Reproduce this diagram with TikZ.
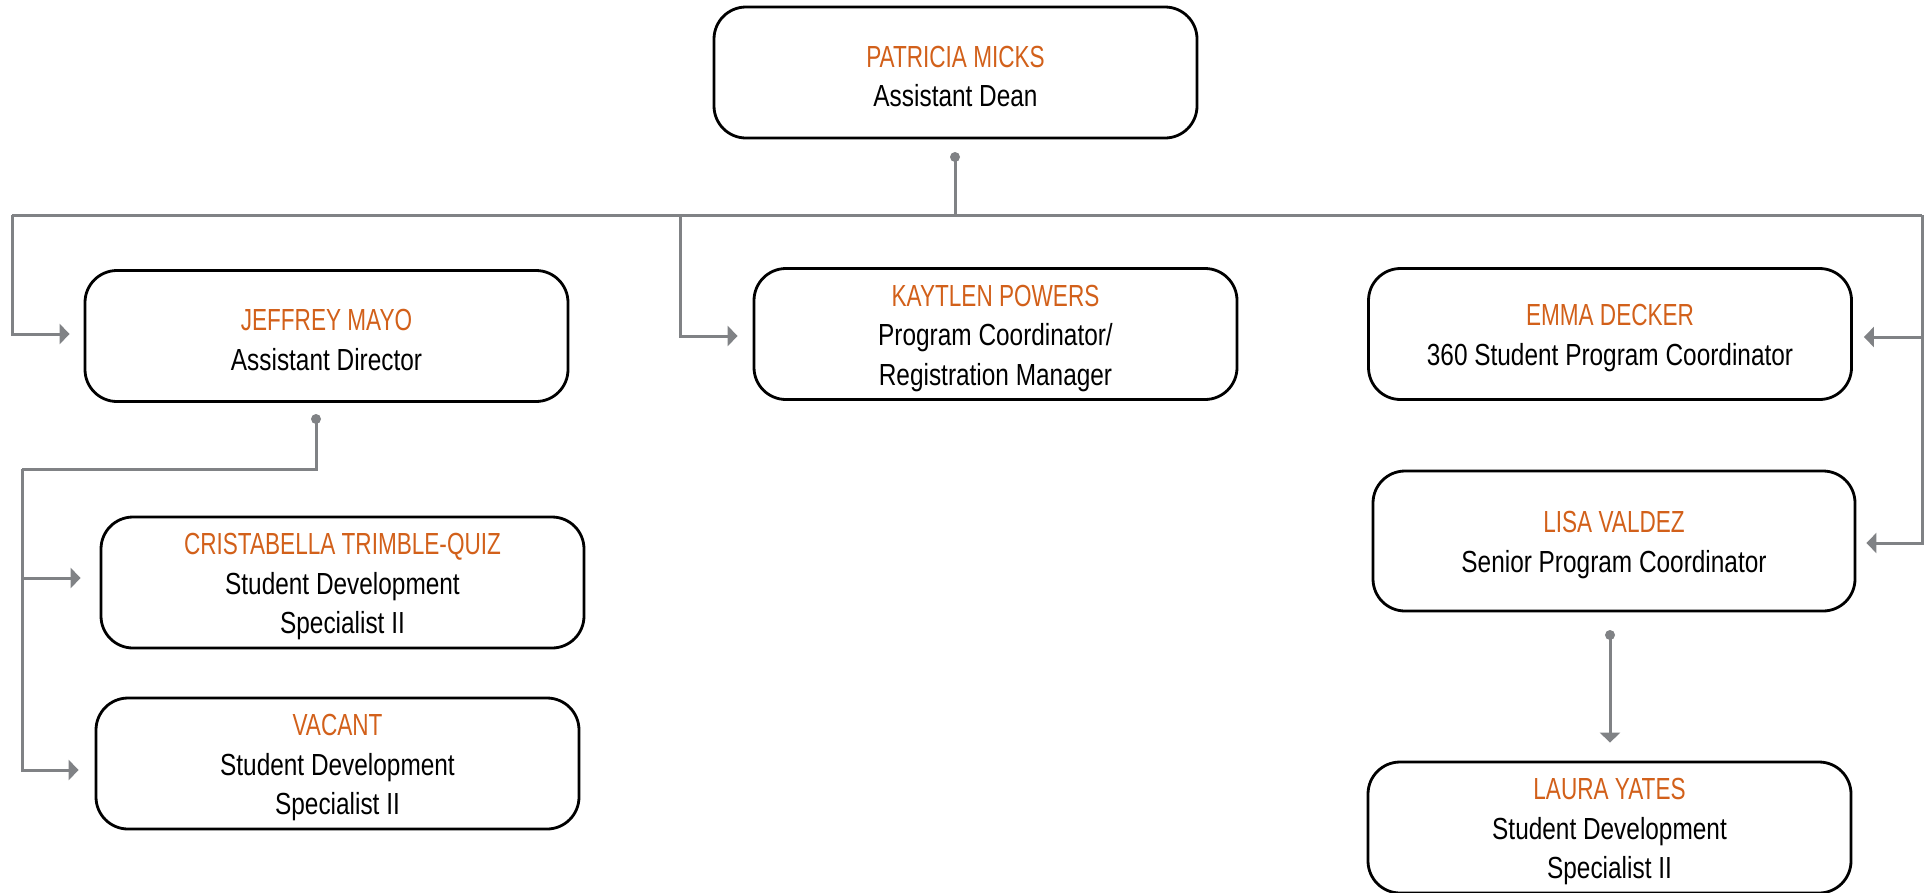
\documentclass[tikz,border=0pt]{standalone}
\usepackage{fontspec}
\usetikzlibrary{arrows.meta}
\setmainfont[FakeStretch=0.80]{Liberation Sans}
\newfontfamily\namefont[FakeStretch=0.74]{Liberation Sans}
\definecolor{nameorange}{RGB}{210,96,26}
\definecolor{conngray}{RGB}{128,130,133}
\newcommand{\person}[2]{\rule{0pt}{29.5pt}\namefont\color{nameorange}#1\\#2}
\tikzset{
  orgbox/.style={draw=black, line width=2.8pt, rounded corners=32pt, fill=white,
    minimum width=483pt, minimum height=131pt, align=center, inner sep=0pt,
    font=\fontsize{30.5}{39.5}\selectfont},
  conn/.style={draw=conngray, line width=3pt},
  arr/.style={conn, -{Triangle[length=10pt, width=20pt]}},
  jdot/.style={fill=conngray}
}
\begin{document}
\begin{tikzpicture}[x=1pt, y=-1pt]
\useasboundingbox (0,0) rectangle (1929,892);
% boxes
\node[orgbox] (pm) at (955.5,72.5) {\person{PATRICIA MICKS}{Assistant Dean}};
\node[orgbox] (jm) at (326.5,336) {\person{JEFFREY MAYO}{Assistant Director}};
\node[orgbox] (kp) at (995.5,334) {\person{KAYTLEN POWERS}{Program Coordinator/\\Registration Manager}};
\node[orgbox] (ed) at (1610,334) {\person{EMMA DECKER}{360 Student Program Coordinator}};
\node[orgbox, minimum width=482pt, minimum height=140pt] (lv) at (1614,541) {\person{LISA VALDEZ}{Senior Program Coordinator}};
\node[orgbox] (ly) at (1609.5,827.5) {\person{LAURA YATES}{Student Development\\Specialist II}};
\node[orgbox] (ct) at (342.5,582.5) {\person{CRISTABELLA TRIMBLE-QUIZ}{Student Development\\Specialist II}};
\node[orgbox] (va) at (337.5,763.5) {\person{VACANT}{Student Development\\Specialist II}};
% connector points
\coordinate (pmdot) at (955,157);
\coordinate (busM) at (955,215);
\coordinate (busL) at (12,215);
\coordinate (busK) at (680,215);
\coordinate (busR) at (1922,215);
\coordinate (jmdot) at (316,419);
\coordinate (subL) at (22,469);
\coordinate (lvdot) at (1610,635);
% top-level connectors
\draw[conn] (pmdot) -- (busM);
\draw[conn] (busL) -- (busR);
\draw[arr, shorten >=14pt] (busL) |- ([yshift=2pt]jm.west);
\draw[arr, shorten >=15pt] (busK) |- ([yshift=-2pt]kp.west);
\draw[arr, shorten >=11pt] (busR) |- ([yshift=-3pt]ed.east);
\draw[arr, shorten >=10pt] (busR) |- ([yshift=-2pt]lv.east);
\fill[jdot] (pmdot) circle (5pt);
% Jeffrey's reports
\draw[conn] (jmdot) |- (subL);
\draw[arr, shorten >=19pt] (subL) |- ([yshift=4.5pt]ct.west);
\draw[arr, shorten >=16pt] (subL) |- ([yshift=-6.5pt]va.west);
\fill[jdot] (jmdot) circle (5pt);
% Lisa's report
\draw[arr, shorten >=18pt] (lvdot) -- (lvdot |- ly.north);
\fill[jdot] (lvdot) circle (5pt);
\end{tikzpicture}
\end{document}
